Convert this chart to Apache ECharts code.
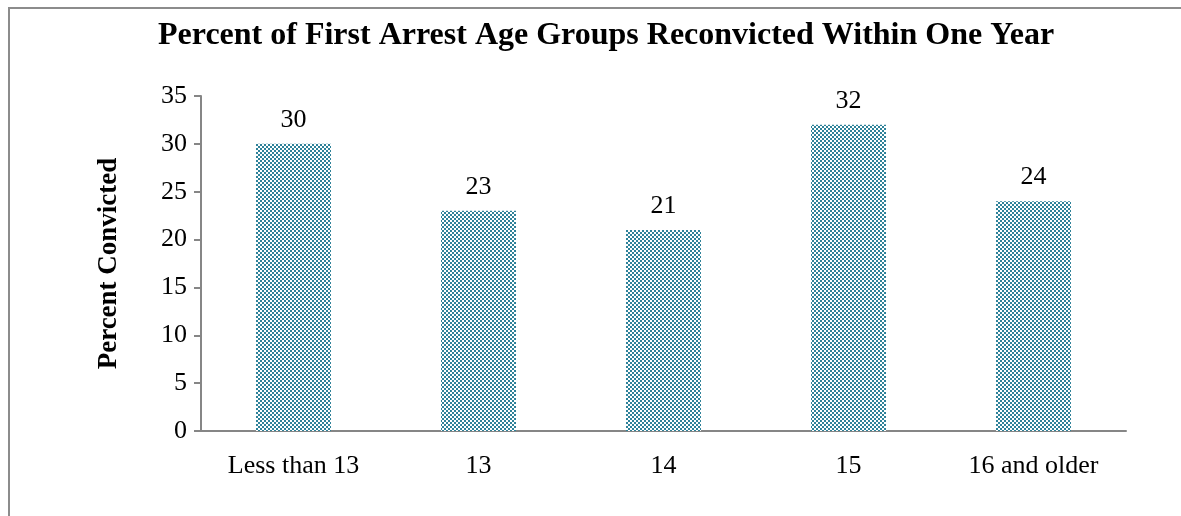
<!DOCTYPE html>
<html>
<head>
<meta charset="utf-8">
<script src="https://cdn.jsdelivr.net/npm/echarts@6/dist/echarts.min.js"></script>
<style>
html,body{margin:0;padding:0;background:#fff;}
#main{width:1181px;height:516px;}
</style>
</head>
<body>
<div id="main"></div>
<script>
var categories = ['Less than 13', '13', '14', '15', '16 and older'];
var values = [30, 23, 21, 32, 24];
var yTicks = [0, 5, 10, 15, 20, 25, 30, 35];

// 2px checker pattern for the bars
var pat = document.createElement('canvas');
pat.width = 4; pat.height = 4;
var ctx = pat.getContext('2d');
ctx.fillStyle = '#ffffff';
ctx.fillRect(0, 0, 4, 4);
ctx.fillStyle = '#2f8299';
ctx.fillRect(0, 0, 2, 2);
ctx.fillRect(2, 2, 2, 2);

var serif = '"Liberation Serif", "Times New Roman", serif';
var chart = echarts.init(document.getElementById('main'));
chart.setOption({
	animation: false,
	title: {
		text: 'Percent of First Arrest Age Groups Reconvicted Within One Year',
		left: 153,
		top: 15,
		textStyle: {fontFamily: serif, fontSize: 32, fontWeight: 'bold', color: '#000'}
	},
	graphic: [{
		type: 'polyline',
		shape: {points: [[9, 520], [9, 8], [1190, 8]]},
		style: {stroke: '#8c8c8c', lineWidth: 2, fill: null}
	}],
	grid: {left: 201, right: 55, top: 96, bottom: 85},
	xAxis: {
		type: 'category',
		data: categories,
		axisLine: {lineStyle: {color: '#868686', width: 2}},
		axisTick: {length: 7, lineStyle: {color: '#868686', width: 2}},
		axisLabel: {fontFamily: serif, fontSize: 26, color: '#000', margin: 22}
	},
	yAxis: {
		type: 'value',
		min: yTicks[0],
		max: yTicks[yTicks.length - 1],
		interval: 5,
		name: 'Percent Convicted',
		nameLocation: 'middle',
		nameGap: 78,
		nameTextStyle: {fontFamily: serif, fontSize: 27, fontWeight: 'bold', color: '#000'},
		splitLine: {show: false},
		axisLine: {show: true, lineStyle: {color: '#868686', width: 2}},
		axisTick: {show: true, length: 7, lineStyle: {color: '#868686', width: 2}},
		axisLabel: {fontFamily: serif, fontSize: 26, color: '#000', margin: 14}
	},
	series: [{
		type: 'bar',
		data: values,
		barWidth: 75,
		itemStyle: {color: {image: pat, repeat: 'repeat'}},
		label: {show: true, position: 'top', distance: 11, fontFamily: serif, fontSize: 26, color: '#000'}
	}]
});
</script>
</body>
</html>
